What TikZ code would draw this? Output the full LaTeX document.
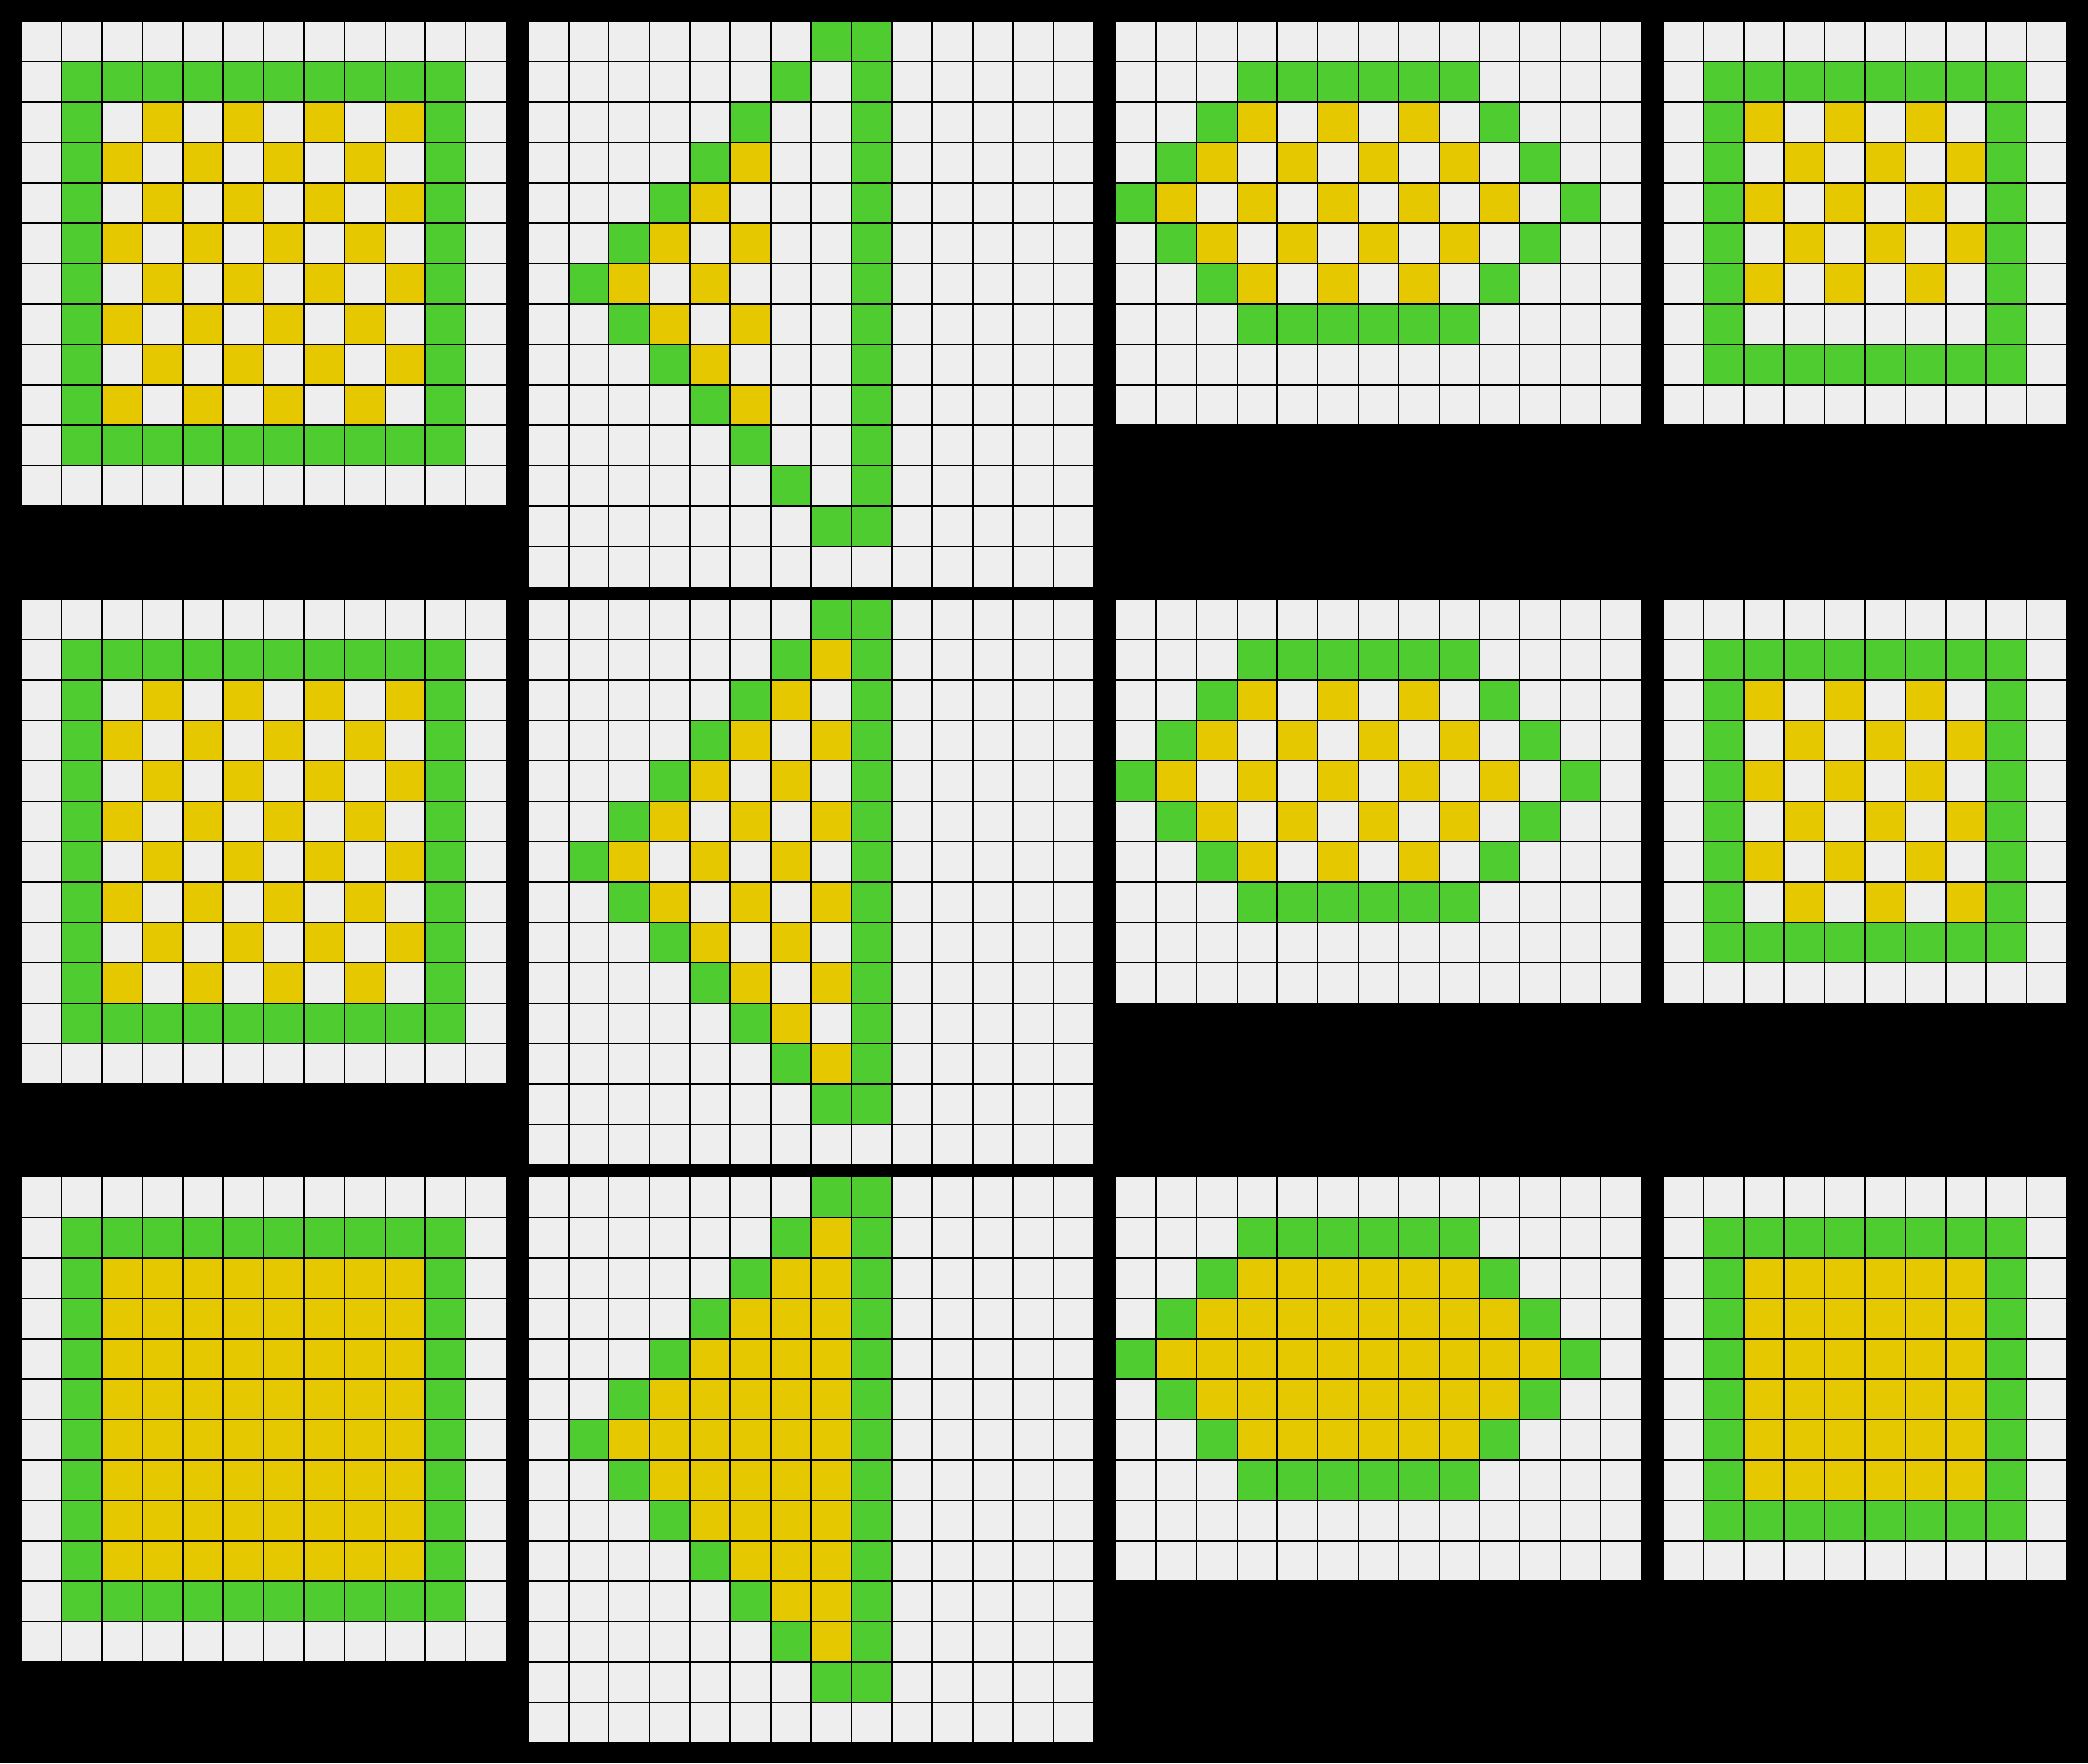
\documentclass[tikz,border=0pt]{standalone}
\usepackage{tikz}

\definecolor{arc0}{HTML}{EEEEEE}
\definecolor{arc3}{HTML}{4FCC30}
\definecolor{arc4}{HTML}{E5C800}

% #1 left, #2 top, #3 rows
\newcommand{\arcgrid}[3]{%
  \foreach \line [count=\r] in {#3} {
    \foreach \v [count=\c] in \line {
      \draw[cell,fill=arc\v] ({#1+\c-1},{-#2-\r+1}) rectangle +(1,-1);
    }
  }%
}

\begin{document}
\begin{tikzpicture}[x=1cm,y=1cm]
  \tikzstyle{cell}=[draw=black,line width=1pt]
  \useasboundingbox (0,0) rectangle (51.66,-43.64);
  \fill[black] (0,0) rectangle (51.66,-43.64);

  \arcgrid{0.525}{0.525}{
    {0,0,0,0,0,0,0,0,0,0,0,0},
    {0,3,3,3,3,3,3,3,3,3,3,0},
    {0,3,0,4,0,4,0,4,0,4,3,0},
    {0,3,4,0,4,0,4,0,4,0,3,0},
    {0,3,0,4,0,4,0,4,0,4,3,0},
    {0,3,4,0,4,0,4,0,4,0,3,0},
    {0,3,0,4,0,4,0,4,0,4,3,0},
    {0,3,4,0,4,0,4,0,4,0,3,0},
    {0,3,0,4,0,4,0,4,0,4,3,0},
    {0,3,4,0,4,0,4,0,4,0,3,0},
    {0,3,3,3,3,3,3,3,3,3,3,0},
    {0,0,0,0,0,0,0,0,0,0,0,0}}
  \arcgrid{13.065}{0.525}{
    {0,0,0,0,0,0,0,3,3,0,0,0,0,0},
    {0,0,0,0,0,0,3,0,3,0,0,0,0,0},
    {0,0,0,0,0,3,0,0,3,0,0,0,0,0},
    {0,0,0,0,3,4,0,0,3,0,0,0,0,0},
    {0,0,0,3,4,0,0,0,3,0,0,0,0,0},
    {0,0,3,4,0,4,0,0,3,0,0,0,0,0},
    {0,3,4,0,4,0,0,0,3,0,0,0,0,0},
    {0,0,3,4,0,4,0,0,3,0,0,0,0,0},
    {0,0,0,3,4,0,0,0,3,0,0,0,0,0},
    {0,0,0,0,3,4,0,0,3,0,0,0,0,0},
    {0,0,0,0,0,3,0,0,3,0,0,0,0,0},
    {0,0,0,0,0,0,3,0,3,0,0,0,0,0},
    {0,0,0,0,0,0,0,3,3,0,0,0,0,0},
    {0,0,0,0,0,0,0,0,0,0,0,0,0,0}}
  \arcgrid{27.605}{0.525}{
    {0,0,0,0,0,0,0,0,0,0,0,0,0},
    {0,0,0,3,3,3,3,3,3,0,0,0,0},
    {0,0,3,4,0,4,0,4,0,3,0,0,0},
    {0,3,4,0,4,0,4,0,4,0,3,0,0},
    {3,4,0,4,0,4,0,4,0,4,0,3,0},
    {0,3,4,0,4,0,4,0,4,0,3,0,0},
    {0,0,3,4,0,4,0,4,0,3,0,0,0},
    {0,0,0,3,3,3,3,3,3,0,0,0,0},
    {0,0,0,0,0,0,0,0,0,0,0,0,0},
    {0,0,0,0,0,0,0,0,0,0,0,0,0}}
  \arcgrid{41.145}{0.525}{
    {0,0,0,0,0,0,0,0,0,0},
    {0,3,3,3,3,3,3,3,3,0},
    {0,3,4,0,4,0,4,0,3,0},
    {0,3,0,4,0,4,0,4,3,0},
    {0,3,4,0,4,0,4,0,3,0},
    {0,3,0,4,0,4,0,4,3,0},
    {0,3,4,0,4,0,4,0,3,0},
    {0,3,0,0,0,0,0,0,3,0},
    {0,3,3,3,3,3,3,3,3,0},
    {0,0,0,0,0,0,0,0,0,0}}

  \arcgrid{0.525}{14.825}{
    {0,0,0,0,0,0,0,0,0,0,0,0},
    {0,3,3,3,3,3,3,3,3,3,3,0},
    {0,3,0,4,0,4,0,4,0,4,3,0},
    {0,3,4,0,4,0,4,0,4,0,3,0},
    {0,3,0,4,0,4,0,4,0,4,3,0},
    {0,3,4,0,4,0,4,0,4,0,3,0},
    {0,3,0,4,0,4,0,4,0,4,3,0},
    {0,3,4,0,4,0,4,0,4,0,3,0},
    {0,3,0,4,0,4,0,4,0,4,3,0},
    {0,3,4,0,4,0,4,0,4,0,3,0},
    {0,3,3,3,3,3,3,3,3,3,3,0},
    {0,0,0,0,0,0,0,0,0,0,0,0}}
  \arcgrid{13.065}{14.825}{
    {0,0,0,0,0,0,0,3,3,0,0,0,0,0},
    {0,0,0,0,0,0,3,4,3,0,0,0,0,0},
    {0,0,0,0,0,3,4,0,3,0,0,0,0,0},
    {0,0,0,0,3,4,0,4,3,0,0,0,0,0},
    {0,0,0,3,4,0,4,0,3,0,0,0,0,0},
    {0,0,3,4,0,4,0,4,3,0,0,0,0,0},
    {0,3,4,0,4,0,4,0,3,0,0,0,0,0},
    {0,0,3,4,0,4,0,4,3,0,0,0,0,0},
    {0,0,0,3,4,0,4,0,3,0,0,0,0,0},
    {0,0,0,0,3,4,0,4,3,0,0,0,0,0},
    {0,0,0,0,0,3,4,0,3,0,0,0,0,0},
    {0,0,0,0,0,0,3,4,3,0,0,0,0,0},
    {0,0,0,0,0,0,0,3,3,0,0,0,0,0},
    {0,0,0,0,0,0,0,0,0,0,0,0,0,0}}
  \arcgrid{27.605}{14.825}{
    {0,0,0,0,0,0,0,0,0,0,0,0,0},
    {0,0,0,3,3,3,3,3,3,0,0,0,0},
    {0,0,3,4,0,4,0,4,0,3,0,0,0},
    {0,3,4,0,4,0,4,0,4,0,3,0,0},
    {3,4,0,4,0,4,0,4,0,4,0,3,0},
    {0,3,4,0,4,0,4,0,4,0,3,0,0},
    {0,0,3,4,0,4,0,4,0,3,0,0,0},
    {0,0,0,3,3,3,3,3,3,0,0,0,0},
    {0,0,0,0,0,0,0,0,0,0,0,0,0},
    {0,0,0,0,0,0,0,0,0,0,0,0,0}}
  \arcgrid{41.145}{14.825}{
    {0,0,0,0,0,0,0,0,0,0},
    {0,3,3,3,3,3,3,3,3,0},
    {0,3,4,0,4,0,4,0,3,0},
    {0,3,0,4,0,4,0,4,3,0},
    {0,3,4,0,4,0,4,0,3,0},
    {0,3,0,4,0,4,0,4,3,0},
    {0,3,4,0,4,0,4,0,3,0},
    {0,3,0,4,0,4,0,4,3,0},
    {0,3,3,3,3,3,3,3,3,0},
    {0,0,0,0,0,0,0,0,0,0}}

  \arcgrid{0.525}{29.125}{
    {0,0,0,0,0,0,0,0,0,0,0,0},
    {0,3,3,3,3,3,3,3,3,3,3,0},
    {0,3,4,4,4,4,4,4,4,4,3,0},
    {0,3,4,4,4,4,4,4,4,4,3,0},
    {0,3,4,4,4,4,4,4,4,4,3,0},
    {0,3,4,4,4,4,4,4,4,4,3,0},
    {0,3,4,4,4,4,4,4,4,4,3,0},
    {0,3,4,4,4,4,4,4,4,4,3,0},
    {0,3,4,4,4,4,4,4,4,4,3,0},
    {0,3,4,4,4,4,4,4,4,4,3,0},
    {0,3,3,3,3,3,3,3,3,3,3,0},
    {0,0,0,0,0,0,0,0,0,0,0,0}}
  \arcgrid{13.065}{29.125}{
    {0,0,0,0,0,0,0,3,3,0,0,0,0,0},
    {0,0,0,0,0,0,3,4,3,0,0,0,0,0},
    {0,0,0,0,0,3,4,4,3,0,0,0,0,0},
    {0,0,0,0,3,4,4,4,3,0,0,0,0,0},
    {0,0,0,3,4,4,4,4,3,0,0,0,0,0},
    {0,0,3,4,4,4,4,4,3,0,0,0,0,0},
    {0,3,4,4,4,4,4,4,3,0,0,0,0,0},
    {0,0,3,4,4,4,4,4,3,0,0,0,0,0},
    {0,0,0,3,4,4,4,4,3,0,0,0,0,0},
    {0,0,0,0,3,4,4,4,3,0,0,0,0,0},
    {0,0,0,0,0,3,4,4,3,0,0,0,0,0},
    {0,0,0,0,0,0,3,4,3,0,0,0,0,0},
    {0,0,0,0,0,0,0,3,3,0,0,0,0,0},
    {0,0,0,0,0,0,0,0,0,0,0,0,0,0}}
  \arcgrid{27.605}{29.125}{
    {0,0,0,0,0,0,0,0,0,0,0,0,0},
    {0,0,0,3,3,3,3,3,3,0,0,0,0},
    {0,0,3,4,4,4,4,4,4,3,0,0,0},
    {0,3,4,4,4,4,4,4,4,4,3,0,0},
    {3,4,4,4,4,4,4,4,4,4,4,3,0},
    {0,3,4,4,4,4,4,4,4,4,3,0,0},
    {0,0,3,4,4,4,4,4,4,3,0,0,0},
    {0,0,0,3,3,3,3,3,3,0,0,0,0},
    {0,0,0,0,0,0,0,0,0,0,0,0,0},
    {0,0,0,0,0,0,0,0,0,0,0,0,0}}
  \arcgrid{41.145}{29.125}{
    {0,0,0,0,0,0,0,0,0,0},
    {0,3,3,3,3,3,3,3,3,0},
    {0,3,4,4,4,4,4,4,3,0},
    {0,3,4,4,4,4,4,4,3,0},
    {0,3,4,4,4,4,4,4,3,0},
    {0,3,4,4,4,4,4,4,3,0},
    {0,3,4,4,4,4,4,4,3,0},
    {0,3,4,4,4,4,4,4,3,0},
    {0,3,3,3,3,3,3,3,3,0},
    {0,0,0,0,0,0,0,0,0,0}}
\end{tikzpicture}
\end{document}
